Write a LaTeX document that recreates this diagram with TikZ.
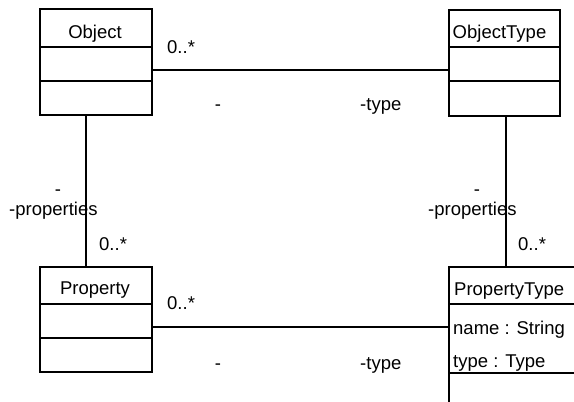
\documentclass[tikz,border=0pt]{standalone}
\usepackage{fontspec}
\setmainfont{Liberation Sans}
\begin{document}
\begin{tikzpicture}[x=1pt,y=-1pt,
  cls/.style={draw,line width=1.5pt,minimum width=112pt,inner sep=0pt},
  divider/.style={line width=1.5pt},
  conn/.style={line width=1.2pt},
  txt/.style={inner sep=0pt,font=\fontsize{18.5}{21}\selectfont},
  lbl/.style={txt,anchor=base west},
  clbl/.style={txt,anchor=base}]
\path[use as bounding box,clip] (0,0) rectangle (574,402);
\fill[white] (0,0) rectangle (574,402);
% Object
\node[cls,minimum height=106pt] (obj) at (96,62) {};
\draw[divider] (40,47) -- (152,47) (40,81) -- (152,81);
\node[clbl] (objt) at (95,38) {Object};
% ObjectType
\node[cls,minimum width=111pt,minimum height=106pt] (ot) at (504.5,63) {};
\draw[divider] (449,47) -- (560,47) (449,81) -- (560,81);
\node[clbl] (ott) at (499.5,38) {ObjectType};
% Property
\node[cls,minimum height=105pt] (prop) at (96,319.5) {};
\draw[divider] (40,304) -- (152,304) (40,338) -- (152,338);
\node[clbl] (propt) at (95,294) {Property};
% PropertyType
\node[cls,minimum width=160pt,minimum height=170pt] (pt) at (529,352) {};
\draw[divider] (449,304) -- (609,304) (449,373) -- (609,373);
\node[lbl] (ptt) at (454,295) {PropertyType};
\node[lbl] (ptname) at (453,334) {name : String};
\node[lbl] (pttype) at (453,367) {type : Type};
% connectors
\draw[conn] ([yshift=-8pt]obj.east) -- ([yshift=-8pt]obj.east -| ot.west);
\draw[conn] ([xshift=-10pt]obj.south) -- ([xshift=-10pt]obj.south |- prop.north);
\draw[conn] ([xshift=1.5pt]ot.south) -- ([xshift=1.5pt]ot.south |- pt.north);
\draw[conn] ([yshift=-7.5pt]prop.east) -- ([yshift=-7.5pt]prop.east -| pt.west);
% labels
\node[lbl] (l1) at (167,53) {0..*};
\node[clbl] (l2) at (218,110) {-};
\node[lbl] (l3) at (360,110) {-type};
\node[clbl] (l4) at (58,195) {-};
\node[lbl] (l5) at (9,215) {-properties};
\node[lbl] (l6) at (99,250) {0..*};
\node[clbl] (l7) at (477,195) {-};
\node[lbl] (l8) at (428,215) {-properties};
\node[lbl] (l9) at (518,250) {0..*};
\node[lbl] (l10) at (167,309) {0..*};
\node[clbl] (l11) at (218,369) {-};
\node[lbl] (l12) at (360,369) {-type};
\end{tikzpicture}
\end{document}
